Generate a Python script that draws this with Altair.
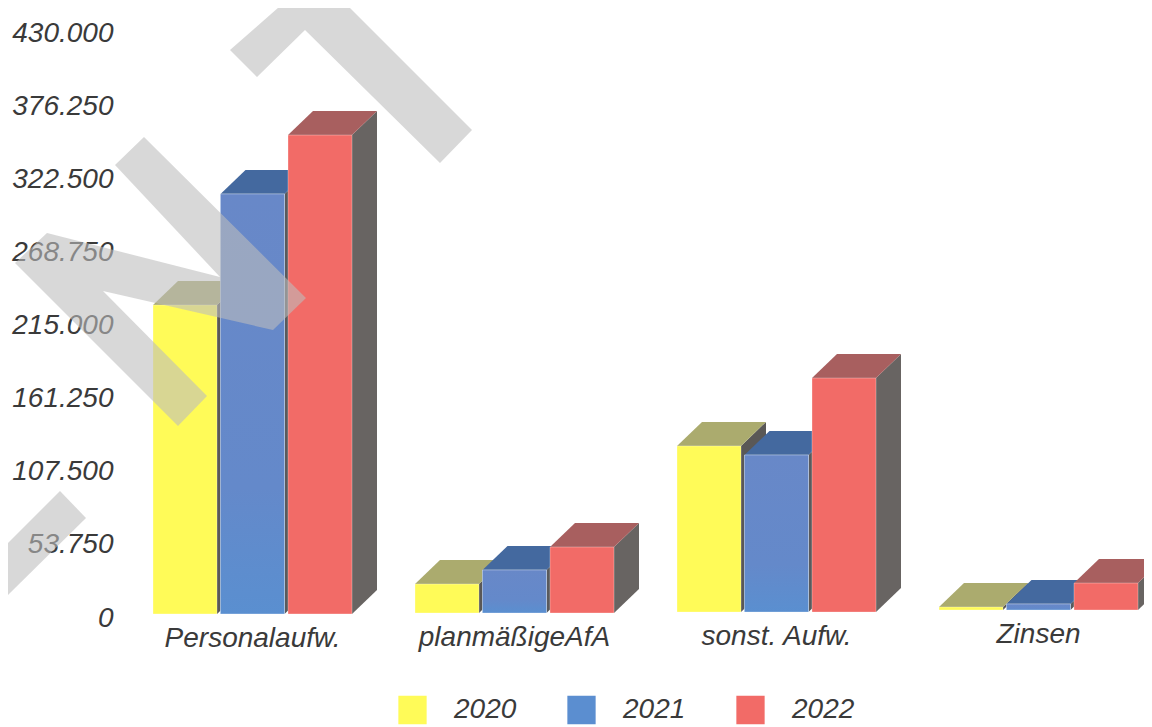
import altair as alt
import pandas as pd

categories = ["Personalaufw.", "planmäßigeAfA", "sonst. Aufw.", "Zinsen"]
years = ["2020", "2021", "2022"]
values_2020 = [226400, 21300, 122800, 4400]
values_2021 = [308000, 31600, 116100, 6600]
values_2022 = [351300, 48500, 172700, 22000]
baseline = [-700, 0, 700, 2200]   # the scanned page is slightly tilted
y_ticks = [0, 53750, 107500, 161250, 215000, 268750, 322500, 376250, 430000]

front_colors = ["#FFFB58", "#5B8ED0", "#F26B67"]
top_colors = ["#ABAB6E", "#44699F", "#A85F5F"]
side_colors = ["#5A5856", "#5A5A5C", "#686462"]

# Watermark outline
wm_shapes = [
    [(230, 50), (257, 77), (305, 30), (440, 163), (472, 130), (342, 0), (287, 0)],
    [(115, 165), (144, 137), (306, 298), (273, 330), (103, 291), (207, 396),
     (178, 426), (15, 263), (47, 233), (220, 277)],
    [(60, 491), (86, 518), (0, 603), (0, 551)],
]

W, H = 1136, 719
PX_PER_GROUP = 262.0
X0 = 145.0
ZERO_Y = 605.0
PX_PER_VALUE = 585.0 / 430000.0
x_domain = [-X0 / PX_PER_GROUP, (W - X0) / PX_PER_GROUP]
y_domain = [-(H - ZERO_Y) / PX_PER_VALUE, ZERO_Y / PX_PER_VALUE]
STEP = 67.5 / PX_PER_GROUP
BAR = 64.0 / PX_PER_GROUP
DX = 25.0 / PX_PER_GROUP
DY = 24.0 / PX_PER_VALUE

FONT = "Liberation Sans"
TEXT = "#3A3A3A"
FS = 28

x_scale = alt.Scale(domain=x_domain, range=[0, W], nice=False, zero=False)
y_scale = alt.Scale(domain=y_domain, range=[H, 0], nice=False, zero=False)
y_axis = alt.Axis(
    values=y_ticks,
    labelExpr="replace(format(datum.value, ','), ',', '.')",
    domain=False, ticks=False, grid=False, title=None,
    labelFont=FONT, labelFontSize=FS, labelFontStyle="italic",
    labelColor=TEXT, labelPadding=0, offset=-105, labelOffset=5,
    labelOverlap=False, labelBound=False, labelFlush=False,
)

series = [values_2020, values_2021, values_2022]


def polygon_layer(rows, fill, opacity=1.0):
    df = pd.DataFrame(rows, columns=["shape", "i", "x", "y"])
    return alt.Chart(df).mark_line(
        fill=fill, fillOpacity=opacity, strokeWidth=0, strokeOpacity=0
    ).encode(
        x=alt.X("x:Q", scale=x_scale, axis=None),
        y=alt.Y("y:Q", scale=y_scale, axis=y_axis),
        detail="shape:N",
        order="i:Q",
    )


layers = []

for j, year in enumerate(years):
    side_rows, top_rows, front_rows = [], [], []
    for g, cat in enumerate(categories):
        x0 = g + j * STEP
        x1 = x0 + BAR
        base = baseline[g]
        top = series[j][g]
        side = [(x1, base), (x1 + DX, base + DY), (x1 + DX, top + DY), (x1, top)]
        lid = [(x0, top), (x1, top), (x1 + DX, top + DY), (x0 + DX, top + DY)]
        side_rows += [(cat, k, px, py) for k, (px, py) in enumerate(side)]
        top_rows += [(cat, k, px, py) for k, (px, py) in enumerate(lid)]
        front_rows.append(dict(cat=cat, year=year, x0=x0, x1=x1, base=base, top=top))
    layers.append(polygon_layer(side_rows, side_colors[j]))
    layers.append(polygon_layer(top_rows, top_colors[j]))
    front_df = pd.DataFrame(front_rows)
    layers.append(
        alt.Chart(front_df).mark_rect(
            stroke="#FFFFFF", strokeOpacity=0.3, strokeWidth=1
        ).encode(
            x=alt.X("x0:Q", scale=x_scale, axis=None),
            x2="x1:Q",
            y=alt.Y("top:Q", scale=y_scale, axis=y_axis),
            y2="base:Q",
            color=alt.Color(
                "year:N",
                scale=alt.Scale(domain=years, range=front_colors),
                legend=alt.Legend(
                    orient="none", legendX=390, legendY=687, direction="horizontal",
                    title=None, symbolType="square", symbolSize=800, symbolStrokeWidth=0,
                    labelFont=FONT, labelFontSize=FS, labelFontStyle="italic",
                    labelColor=TEXT, labelOffset=27, columnPadding=50, padding=0,
                    clipHeight=30,
                ),
            ),
        )
    )
    if year == "2021":
        # the scan shifts this blue slightly from top to bottom of the bar
        layers.append(
            alt.Chart(front_df).mark_rect(
                fill=alt.Gradient(
                    gradient="linear", x1=0, y1=0, x2=0, y2=1,
                    stops=[
                        alt.GradientStop(offset=0, color="#6888C8"),
                        alt.GradientStop(offset=0.7, color="#6489CA"),
                        alt.GradientStop(offset=1, color="#5A8FD0"),
                    ],
                ),
                stroke="#FFFFFF", strokeOpacity=0.3, strokeWidth=1,
            ).encode(
                x=alt.X("x0:Q", scale=x_scale, axis=None),
                x2="x1:Q",
                y=alt.Y("top:Q", scale=y_scale, axis=y_axis),
                y2="base:Q",
            )
        )

label_df = pd.DataFrame({
    "cat": categories,
    "u": [g + (2 * STEP + BAR) / 2 for g in range(len(categories))],
    "b": baseline,
})
layers.append(
    alt.Chart(label_df).mark_text(
        font=FONT, fontSize=FS, fontStyle="italic", color=TEXT, dy=25
    ).encode(
        x=alt.X("u:Q", scale=x_scale, axis=None),
        y=alt.Y("b:Q", scale=y_scale, axis=y_axis),
        text="cat:N",
    )
)

wm_rows = []
for s, pts in enumerate(wm_shapes):
    for k, (px, py) in enumerate(pts):
        wm_rows.append((s, k, (px - 8 - X0) / PX_PER_GROUP, (ZERO_Y - (py - 8)) / PX_PER_VALUE))
layers.append(polygon_layer(wm_rows, "#BDBDBD", 0.59))

chart = alt.layer(*layers).properties(
    width=W, height=H, padding=0,
    autosize=alt.AutoSizeParams(type="none"),
    background="#FFFFFF",
).configure_view(stroke=None)

chart.save("out.html", embed_options={"renderer": "svg", "actions": False})
